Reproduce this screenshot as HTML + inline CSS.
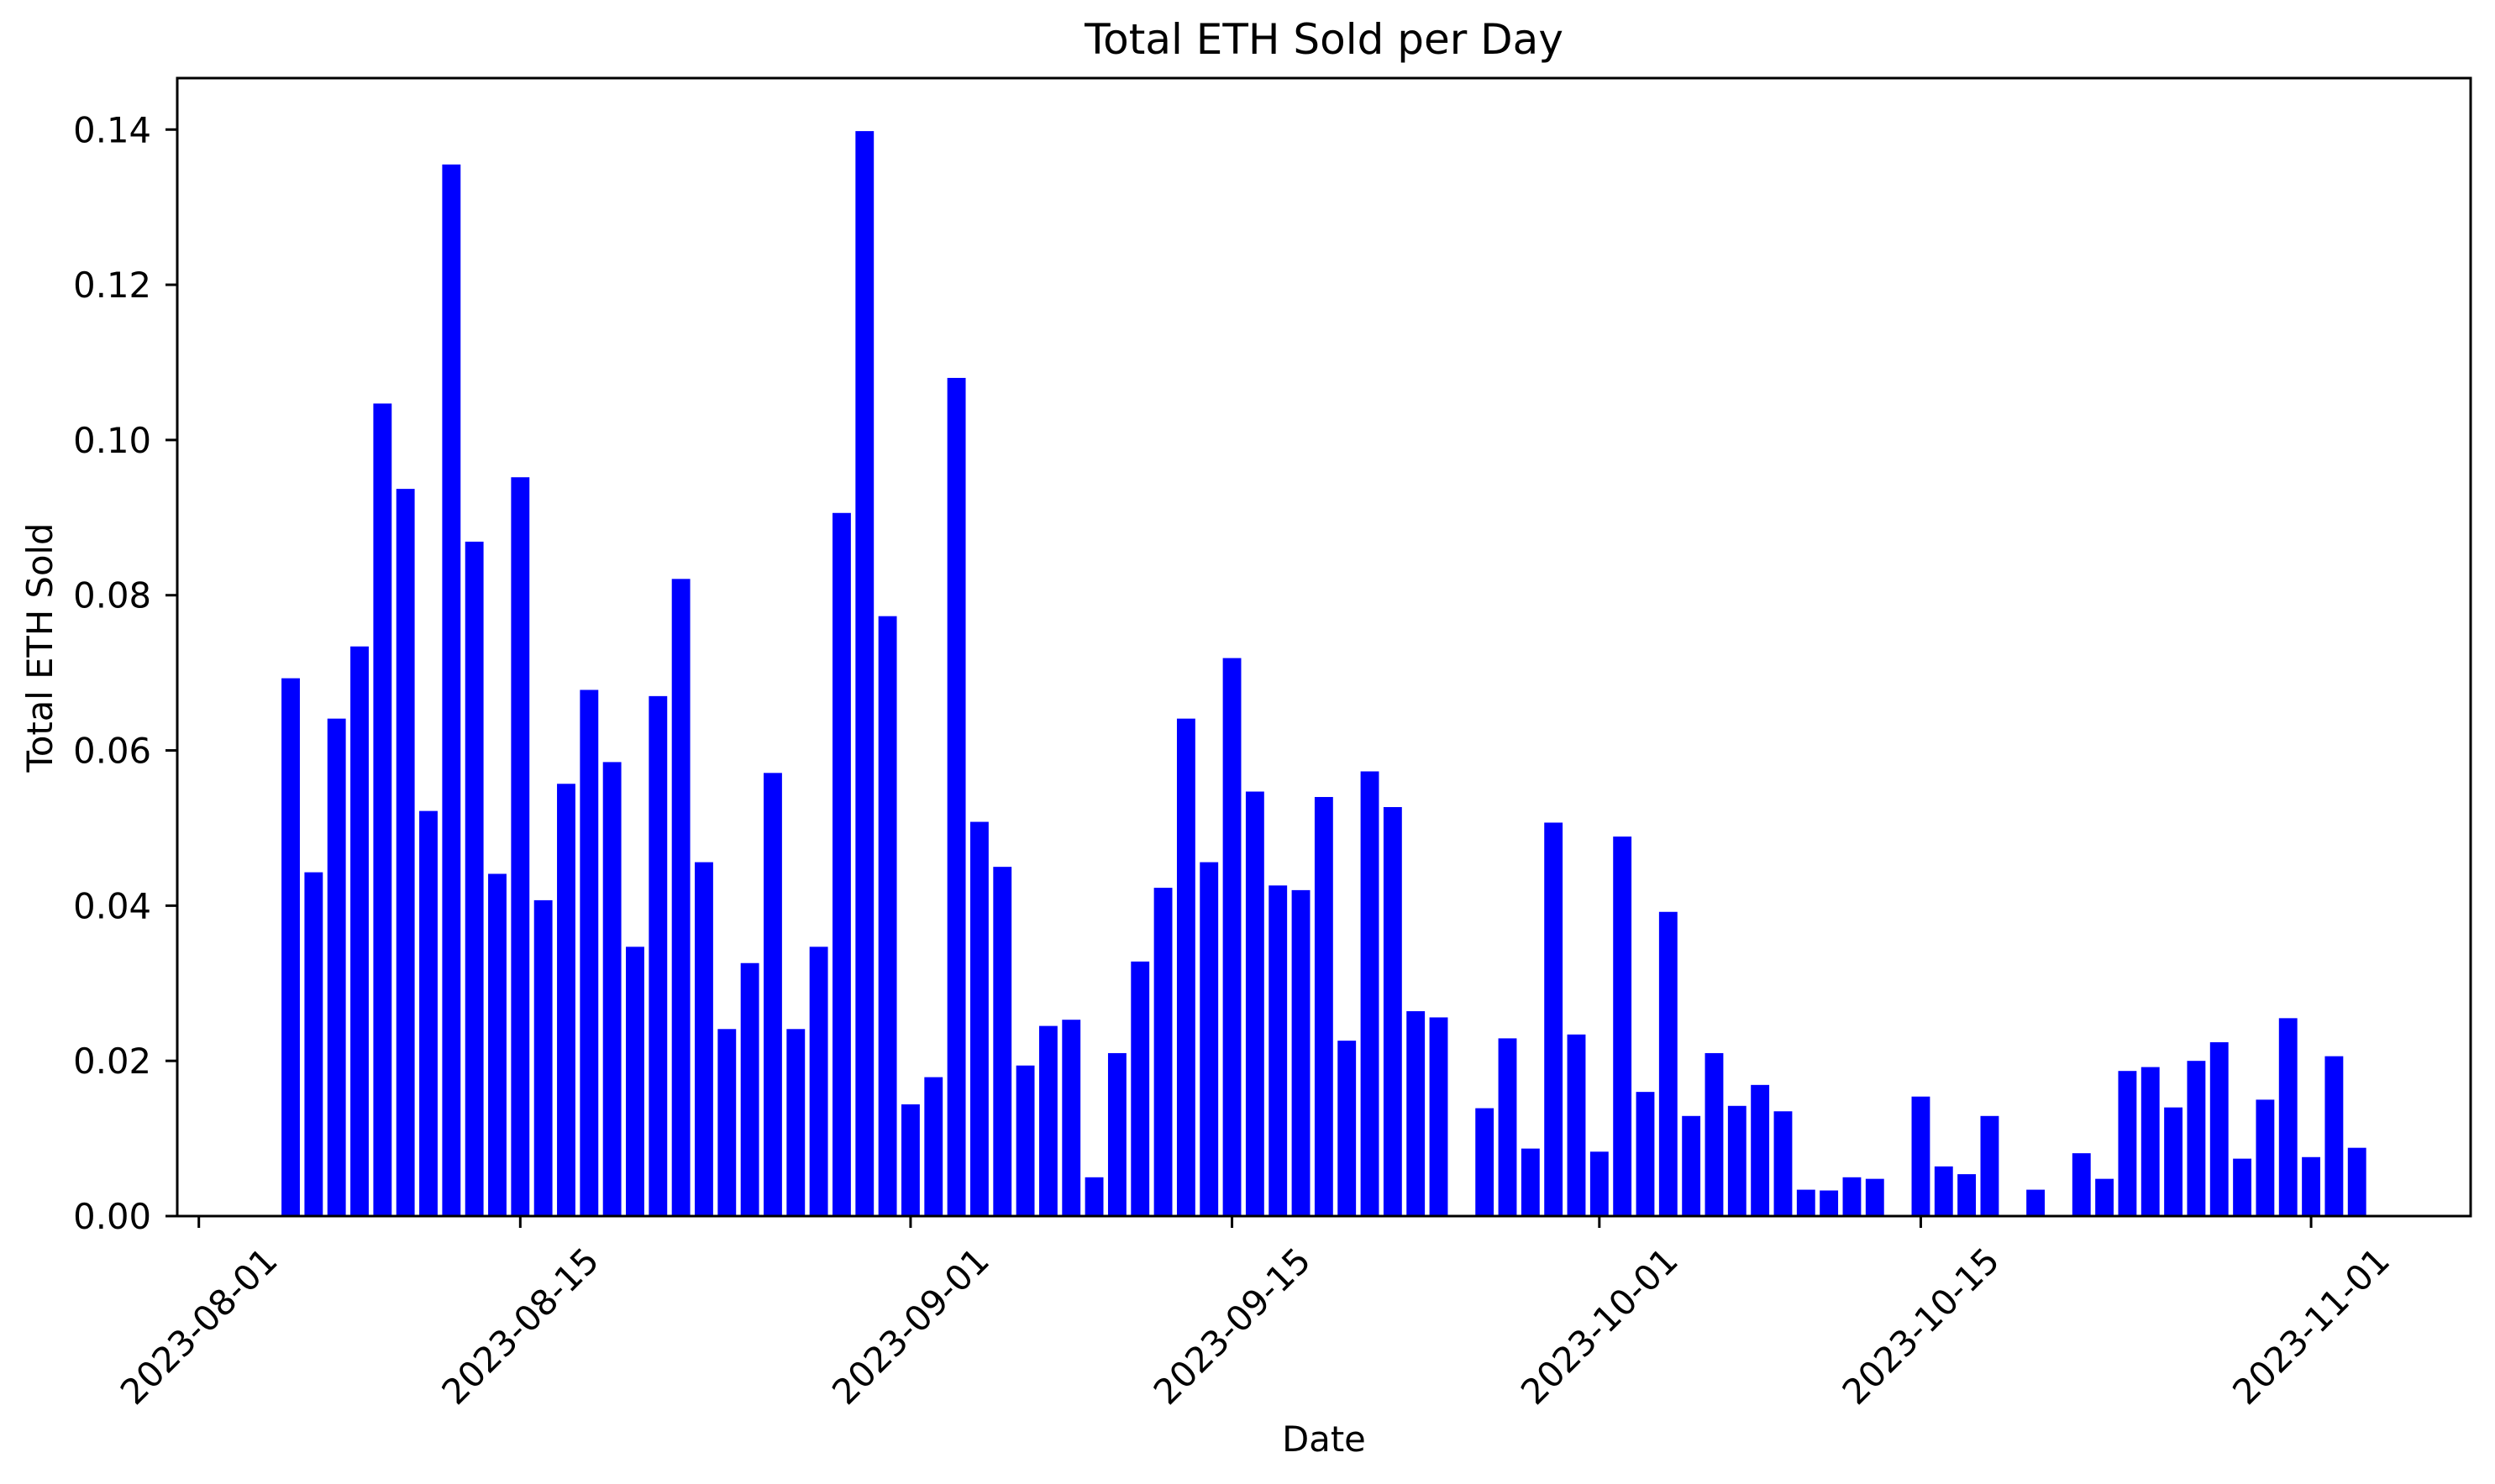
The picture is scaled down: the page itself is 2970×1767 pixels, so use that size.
<!DOCTYPE html>
<html><head><meta charset="utf-8"><style>
html,body{margin:0;padding:0;background:#fff;}
svg{display:block;font-family:"DejaVu Sans","Liberation Sans",sans-serif;}
</style></head><body>
<svg id="chart" width="2970" height="1767" viewBox="0 0 2970 1767" xmlns="http://www.w3.org/2000/svg">
<rect width="2970" height="1767" fill="#fff"/>
<text x="1576" y="64" font-size="50" text-anchor="middle">Total ETH Sold per Day</text>
<text x="1576" y="1728" font-size="41.7" text-anchor="middle">Date</text>
<text transform="translate(62,771) rotate(-90)" font-size="41.7" text-anchor="middle">Total ETH Sold</text>
<g id="bars"></g>
<g id="yaxis"></g>
<g id="xaxis"></g>
<rect x="211" y="93" width="2730" height="1355" fill="none" stroke="#000" stroke-width="3"/>
</svg>
<script>
const startDay = 4; // first bar: 2023-08-05 (days after 2023-08-01)
const values = [0.0693,0.0443,0.0641,0.0734,0.1047,0.0937,0.0522,0.1355,0.0869,0.0441,0.0952,0.0407,0.0557,0.0678,0.0585,0.0347,0.0670,0.0821,0.0456,0.0241,0.0326,0.0571,0.0241,0.0347,0.0906,0.1398,0.0773,0.0144,0.0179,0.1080,0.0508,0.0450,0.0194,0.0245,0.0253,0.0050,0.0210,0.0328,0.0423,0.0641,0.0456,0.0719,0.0547,0.0426,0.0420,0.0540,0.0226,0.0573,0.0527,0.0264,0.0256,null,0.0139,0.0229,0.0087,0.0507,0.0234,0.0083,0.0489,0.0160,0.0392,0.0129,0.0210,0.0142,0.0169,0.0135,0.0034,0.0033,0.0050,0.0048,null,0.0154,0.0064,0.0054,0.0129,null,0.0034,null,0.0081,0.0048,0.0187,0.0192,0.0140,0.0200,0.0224,0.0074,0.0150,0.0255,0.0076,0.0206,0.0088];
const yTicks = [0,0.02,0.04,0.06,0.08,0.10,0.12,0.14];
const yTickLabels = ["0.00","0.02","0.04","0.06","0.08","0.10","0.12","0.14"];
const xTickDays = [0,14,31,45,61,75,92];
const xTickLabels = ["2023-08-01","2023-08-15","2023-09-01","2023-09-15","2023-10-01","2023-10-15","2023-11-01"];

const NS = "http://www.w3.org/2000/svg";
const x0 = 236.7, dayW = 27.33, yBase = 1448, yScale = 9241;
function xs(d){ return x0 + d*dayW; }
function ys(v){ return yBase - v*yScale; }

const gb = document.getElementById('bars');
values.forEach((v,i)=>{
  if(v===null) return;
  const r = document.createElementNS(NS,'rect');
  const cx = xs(startDay+i), w = dayW*0.8;
  r.setAttribute('x', cx - w/2);
  r.setAttribute('y', ys(v));
  r.setAttribute('width', w);
  r.setAttribute('height', yBase - ys(v));
  r.setAttribute('fill', '#0000ff');
  
  
  gb.appendChild(r);
});

const gy = document.getElementById('yaxis');
yTicks.forEach((t,i)=>{
  const y = ys(t);
  const l = document.createElementNS(NS,'line');
  l.setAttribute('x1',197); l.setAttribute('x2',211);
  l.setAttribute('y1',y); l.setAttribute('y2',y);
  l.setAttribute('stroke','#000'); l.setAttribute('stroke-width',3);
  
  
  gy.appendChild(l);
  const tx = document.createElementNS(NS,'text');
  tx.setAttribute('x',180); tx.setAttribute('y',y+15);
  tx.setAttribute('font-size',41.7); tx.setAttribute('text-anchor','end');
  tx.textContent = yTickLabels[i];
  
  
  gy.appendChild(tx);
});

const gx = document.getElementById('xaxis');
xTickDays.forEach((d,i)=>{
  const x = xs(d);
  const l = document.createElementNS(NS,'line');
  l.setAttribute('x1',x); l.setAttribute('x2',x);
  l.setAttribute('y1',1448); l.setAttribute('y2',1462);
  l.setAttribute('stroke','#000'); l.setAttribute('stroke-width',3);
  
  
  gx.appendChild(l);
  const tx = document.createElementNS(NS,'text');
  tx.setAttribute('transform','translate('+x+',1579) rotate(-45)');
  tx.setAttribute('font-size',41.7); tx.setAttribute('text-anchor','middle');
  tx.setAttribute('dominant-baseline','central');
  tx.textContent = xTickLabels[i];
  
  
  gx.appendChild(tx);
});
</script>
</body></html>
